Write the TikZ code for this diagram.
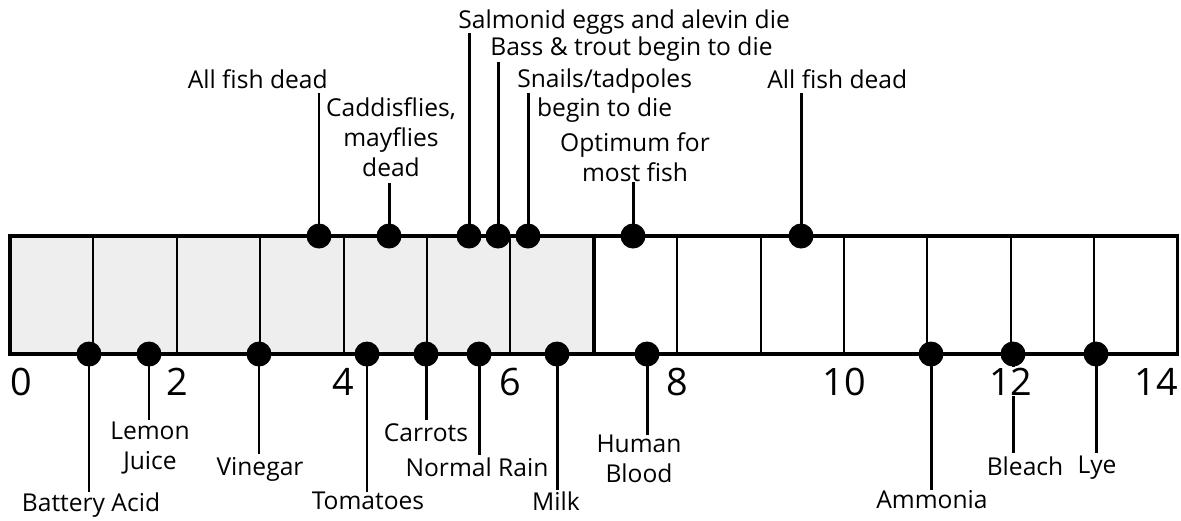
\documentclass[tikz,border=0pt]{standalone}
\usepackage{fontspec}
\setmainfont{Open Sans}
\usepackage{tikz}
\usetikzlibrary{positioning}
\definecolor{PureWhite}{HTML}{FFFFFF}
\definecolor{InkBlack}{HTML}{000000}

\begin{document}
\begin{tikzpicture}[x=0.2mm, y=-0.2mm,
  dot/.style={circle, fill=InkBlack, inner sep=0pt, minimum size=5mm},
  stem/.style={InkBlack, line width=1.7pt},
  lab/.style={font=\fontsize{14}{17}\selectfont, inner sep=0pt, align=center},
  num/.style={font=\fontsize{21.5}{24}\selectfont, inner sep=0.5pt, fill=PureWhite}]
\definecolor{acidgray}{HTML}{EEEEEE}

\useasboundingbox (0,0) rectangle (1181,520);

% --- pH bar ---
\fill[acidgray] (10,236) rectangle (593.8,354);
\foreach \i in {1,...,13}
  \draw[InkBlack, line width=1.1pt] ({10+\i*83.4},236) -- ({10+\i*83.4},354);
\draw[InkBlack, line width=2pt] (593.8,236) -- (593.8,354);
\draw[InkBlack, line width=1.8pt] (10,236) rectangle (1177.6,354);

% --- markers above the bar ---
\foreach \k/\x/\ey/\anc/\dx/\dy/\txt in {
    1/319/93/base east/9/-5/All fish dead,
    2/389/183/south/2/-6/{Caddisflies,\\mayflies\\dead},
    3/469/33/base west/-11/-5/Salmonid eggs and alevin die,
    4/498/62/base west/-8/-7/Bass \& trout begin to die,
    5/528/93/north west/-11/-25/{Snails/tadpoles\\begin to die},
    6/633/182/south/2/0/{Optimum for\\most fish},
    7/801/93/base west/-34/-5/All fish dead}
{
  \node[dot] (top-dot-\k) at (\x,236) {};
  \coordinate (top-end-\k) at (\x,\ey);
  \node[lab, anchor=\anc] (top-lab-\k) at ([shift={(\dx,\dy)}]top-end-\k) {\txt};
  \draw[stem] (top-dot-\k.center) -- (top-end-\k);
}

% --- markers below the bar ---
\foreach \k/\x/\ey/\dx/\dy/\txt in {
    1/89/492/2/0/Battery Acid,
    2/149/420/1/2/{Lemon\\Juice},
    3/259/454/1/3/Vinegar,
    4/367/492/1/0/Tomatoes,
    5/426/420/0/3/Carrots,
    6/479/455/-2/2/Normal Rain,
    7/557/490/-1/1/Milk,
    8/647/435/-8/0/{Human\\Blood},
    9/931/490/1/0/Ammonia,
    10/1013/453/12/3/Bleach,
    11/1096/453/1/3/Lye}
{
  \node[dot] (bot-dot-\k) at (\x,354) {};
  \coordinate (bot-end-\k) at (\x,\ey);
  \node[lab, anchor=north] (bot-lab-\k) at ([shift={(\dx,\dy)}]bot-end-\k) {\txt};
  \draw[stem] (bot-dot-\k.center) -- (bot-end-\k);
}

% --- scale numbers ---
\foreach \n/\x in {0/21,2/176.8,4/343.6,6/510.4,8/677.2,10/844,12/1010.8,14/1156}
  \node[num, anchor=north] (num-\n) at (\x,367) {\n};
\end{tikzpicture}
\end{document}
